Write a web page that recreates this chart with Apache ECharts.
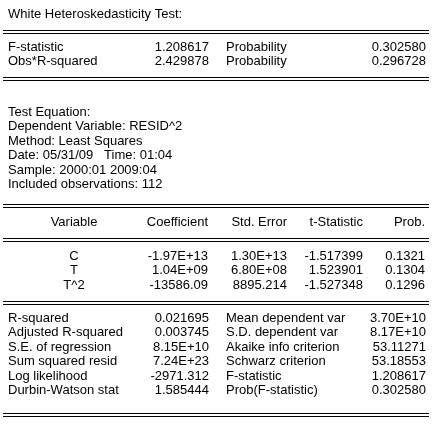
<!DOCTYPE html>
<html>
<head>
<meta charset="utf-8">
<script src="https://cdn.jsdelivr.net/npm/echarts@6/dist/echarts.min.js"></script>
<style>
html,body{margin:0;padding:0;background:#fff;}
#main{width:434px;height:427px;}
</style>
</head>
<body>
<div id="main"></div>
<script>
const titleText = 'White Heteroskedasticity Test:';
const testLabels = ['F-statistic', 'Obs*R-squared'];
const testValues = ['1.208617', '2.429878'];
const testProbLabels = ['Probability', 'Probability'];
const testProbs = ['0.302580', '0.296728'];
const eqInfo = ['Test Equation:', 'Dependent Variable: RESID^2', 'Method: Least Squares',
  'Date: 05/31/09   Time: 01:04', 'Sample: 2000:01 2009:04', 'Included observations: 112'];
const colHeaders = ['Variable', 'Coefficient', 'Std. Error', 't-Statistic', 'Prob.'];
const variables = ['C', 'T', 'T^2'];
const coefficients = ['-1.97E+13', '1.04E+09', '-13586.09'];
const stdErrors = ['1.30E+13', '6.80E+08', '8895.214'];
const tStats = ['-1.517399', '1.523901', '-1.527348'];
const probs = ['0.1321', '0.1304', '0.1296'];
const sumLabelsL = ['R-squared', 'Adjusted R-squared', 'S.E. of regression', 'Sum squared resid', 'Log likelihood', 'Durbin-Watson stat'];
const sumValuesL = ['0.021695', '0.003745', '8.15E+10', '7.24E+23', '-2971.312', '1.585444'];
const sumLabelsR = ['Mean dependent var', 'S.D. dependent var', 'Akaike info criterion', 'Schwarz criterion', 'F-statistic', 'Prob(F-statistic)'];
const sumValuesR = ['3.70E+10', '8.17E+10', '53.11271', '53.18553', '1.208617', '0.302580'];

// layout
const ROW = 14.5;
const X_L = 8, X_V1 = 209, X_L2 = 226, X_V2 = 426;
const tableCols = [{x: 74, a: 'center'}, {x: 208, a: 'right'}, {x: 287, a: 'right'}, {x: 363, a: 'right'}, {x: 425, a: 'right'}];
const LX0 = 3, LX1 = 429;

const els = [];
function txt(s, x, y, align) {
  els.push({type: 'text', silent: true, style: {text: s, x: x, y: y,
    font: '13px Arial, sans-serif', fill: '#000',
    textAlign: align || 'left', textVerticalAlign: 'middle', verticalAlign: 'middle'}});
}
function dbl(y) {
  [y, y + 3].forEach(function (yy) {
    els.push({type: 'line', silent: true, shape: {x1: LX0, y1: yy + 0.5, x2: LX1, y2: yy + 0.5},
      style: {stroke: '#000', lineWidth: 1}});
  });
}

txt(titleText, X_L, 14);
dbl(30);
testLabels.forEach(function (s, i) {
  const y = 47 + i * ROW;
  txt(s, X_L, y);
  txt(testValues[i], X_V1, y, 'right');
  txt(testProbLabels[i], X_L2, y);
  txt(testProbs[i], X_V2, y, 'right');
});
dbl(77);
eqInfo.forEach(function (s, i) { txt(s, X_L, 112 + i * ROW); });
dbl(204);
colHeaders.forEach(function (s, j) { txt(s, tableCols[j].x, 222, tableCols[j].a); });
dbl(238);
const cols = [variables, coefficients, stdErrors, tStats, probs];
variables.forEach(function (v, i) {
  const y = 256 + i * ROW;
  cols.forEach(function (c, j) { txt(c[i], tableCols[j].x, y, tableCols[j].a); });
});
dbl(301);
sumLabelsL.forEach(function (s, i) {
  const y = 318 + i * ROW;
  txt(s, X_L, y);
  txt(sumValuesL[i], X_V1, y, 'right');
  txt(sumLabelsR[i], X_L2, y);
  txt(sumValuesR[i], X_V2, y, 'right');
});
dbl(413);

const chart = echarts.init(document.getElementById('main'), null, {renderer: 'canvas'});
chart.setOption({backgroundColor: '#fff', animation: false, graphic: {elements: els}});
</script>
</body>
</html>
